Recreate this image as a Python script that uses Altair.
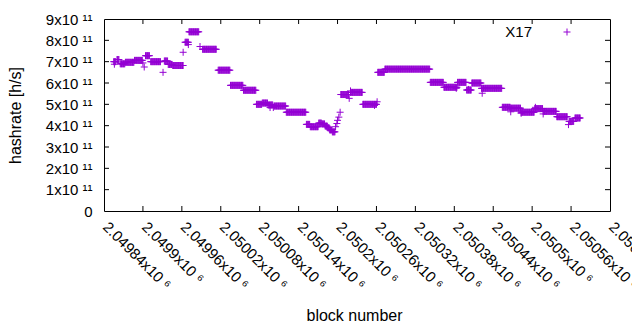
import altair as alt
import pandas as pd

# Runs of consecutive blocks sharing one hashrate value
run_start = [2049855, 2049860, 2049865, 2049873, 2049887, 2049904, 2049912, 2049933,
             2049939, 2049946, 2049965, 2049971, 2049992, 2050016, 2050035, 2050055,
             2050075, 2050084, 2050093, 2050102, 2050121, 2050152, 2050158, 2050171,
             2050176, 2050181, 2050185, 2050188, 2050192, 2050205, 2050220, 2050239,
             2050262, 2050273, 2050343, 2050364, 2050385, 2050399, 2050407, 2050422,
             2050454, 2050467, 2050483, 2050504, 2050517, 2050538, 2050557, 2050566]
run_end = [2049858, 2049863, 2049872, 2049886, 2049899, 2049910, 2049927, 2049938,
           2049945, 2049962, 2049970, 2049986, 2050013, 2050034, 2050054, 2050074,
           2050083, 2050092, 2050100, 2050120, 2050151, 2050157, 2050170, 2050175,
           2050180, 2050184, 2050187, 2050191, 2050196, 2050217, 2050238, 2050260,
           2050272, 2050342, 2050363, 2050384, 2050398, 2050406, 2050421, 2050453,
           2050466, 2050482, 2050503, 2050516, 2050537, 2050554, 2050564, 2050574]
run_value = [7.00e11, 7.10e11, 6.90e11, 6.97e11, 7.06e11, 7.28e11, 7.00e11, 7.03e11,
             6.87e11, 6.82e11, 7.91e11, 8.40e11, 7.58e11, 6.60e11, 5.89e11, 5.66e11,
             5.00e11, 5.06e11, 4.97e11, 4.92e11, 4.63e11, 4.06e11, 3.95e11, 4.12e11,
             4.08e11, 3.98e11, 3.90e11, 3.80e11, 3.71e11, 5.46e11, 5.56e11, 5.00e11,
             6.50e11, 6.65e11, 6.03e11, 5.80e11, 6.03e11, 5.67e11, 6.00e11, 5.75e11,
             4.86e11, 4.82e11, 4.63e11, 4.80e11, 4.67e11, 4.42e11, 4.20e11, 4.36e11]

# Single blocks off their neighbours
single_block = [2049856, 2049900, 2049902, 2049931, 2049962, 2049970, 2049988, 2050096,
                2050101, 2050197, 2050199, 2050200, 2050202, 2050204, 2050218, 2050220,
                2050257, 2050261, 2050383, 2050402, 2050423, 2050467, 2050483, 2050505,
                2050517, 2050556]
single_value = [6.88e11, 6.94e11, 6.75e11, 6.50e11, 7.44e11, 7.80e11, 7.71e11, 4.85e11,
                4.85e11, 3.95e11, 4.10e11, 4.25e11, 4.40e11, 4.63e11, 5.28e11, 5.63e11,
                4.95e11, 5.12e11, 5.75e11, 5.70e11, 5.52e11, 4.65e11, 4.58e11, 4.86e11,
                4.55e11, 4.05e11]

x_ticks = list(range(2049840, 2050621, 60))
y_ticks = [i * 1e11 for i in range(10)]

rows = []
for s, e, v in zip(run_start, run_end, run_value):
    for b in range(s, e + 1):
        rows.append({"block": b, "hashrate": v})
for b, v in zip(single_block, single_value):
    rows.append({"block": b, "hashrate": v})
df = pd.DataFrame(rows)

FONT = "Liberation Sans"
PURPLE = "#9400D3"
W, H = 506, 192
CROSS = "M-1,0H1M0,-1V1"

xscale = alt.Scale(domain=[x_ticks[0], x_ticks[-1]], nice=False, zero=False)
yscale = alt.Scale(domain=[0, 9e11], nice=False)

xaxis = alt.Axis(values=x_ticks, grid=False, ticks=False, domain=False,
                 labelExpr="format(datum.value/1e6, '.6~f') + 'x10 ⁶'",
                 labelAngle=45, labelAlign="left", labelBaseline="top",
                 labelPadding=8, labelOffset=6, labelFont=FONT, labelFontSize=15,
                 labelColor="black", labelOverlap=False, labelFlush=False,
                 labelBound=False,
                 titleFont=FONT, titleFontSize=16, titleFontWeight="normal",
                 titleColor="black", titleX=250, titleY=109,
                 titleBaseline="alphabetic", titleAlign="center")
yaxis = alt.Axis(values=y_ticks, grid=False, ticks=False, domain=False,
                 labelExpr="datum.value == 0 ? '0' : format(round(datum.value/1e11), 'd') + 'x10 ¹¹'",
                 labelAlign="right", labelBaseline="middle", labelPadding=12,
                 labelFont=FONT, labelFontSize=15, labelColor="black",
                 labelOverlap=False, labelFlush=False,
                 titleFont=FONT, titleFontSize=16, titleFontWeight="normal",
                 titleColor="black", titleX=-84, titleY=96, titleAngle=-90,
                 titleAlign="center", titleBaseline="alphabetic")

points = alt.Chart(df).mark_point(
    shape=CROSS, filled=False, size=49, strokeWidth=1, color=PURPLE, opacity=1
).encode(
    x=alt.X("block:Q", scale=xscale, title="block number", axis=xaxis),
    y=alt.Y("hashrate:Q", scale=yscale, title="hashrate [h/s]", axis=yaxis),
)

ydf = pd.DataFrame({"hashrate": y_ticks[1:-1]})
xdf = pd.DataFrame({"block": x_ticks[1:-1]})

left_t = alt.Chart(ydf).mark_rule(color="black", strokeWidth=1).encode(
    y=alt.Y("hashrate:Q", scale=yscale, title="hashrate [h/s]", axis=yaxis),
    x=alt.value(0), x2=alt.value(5))
right_t = alt.Chart(ydf).mark_rule(color="black", strokeWidth=1).encode(
    y=alt.Y("hashrate:Q", scale=yscale, title="hashrate [h/s]", axis=yaxis),
    x=alt.value(W - 5), x2=alt.value(W))
bottom_t = alt.Chart(xdf).mark_rule(color="black", strokeWidth=1).encode(
    x=alt.X("block:Q", scale=xscale, title="block number", axis=xaxis),
    y=alt.value(H - 5), y2=alt.value(H))
top_t = alt.Chart(xdf).mark_rule(color="black", strokeWidth=1).encode(
    x=alt.X("block:Q", scale=xscale, title="block number", axis=xaxis),
    y=alt.value(0), y2=alt.value(5))

legend_df = pd.DataFrame({"t": ["X17"]})
legend_text = alt.Chart(legend_df).mark_text(
    align="right", baseline="middle", font=FONT, fontSize=15, color="black"
).encode(x=alt.value(428), y=alt.value(13), text="t:N")
legend_mark = alt.Chart(legend_df).mark_point(
    shape=CROSS, filled=False, size=49, strokeWidth=1, color=PURPLE, opacity=1
).encode(x=alt.value(463), y=alt.value(13))

chart = alt.layer(points, left_t, right_t, bottom_t, top_t, legend_text, legend_mark).properties(
    width=W, height=H,
    autosize=alt.AutoSizeParams(type="none"),
    padding={"left": 96, "top": 11, "right": 22, "bottom": 110},
    background="white",
).configure_view(stroke="black", strokeWidth=1)

chart.save("out.html", embed_options={"renderer": "svg", "actions": False})
